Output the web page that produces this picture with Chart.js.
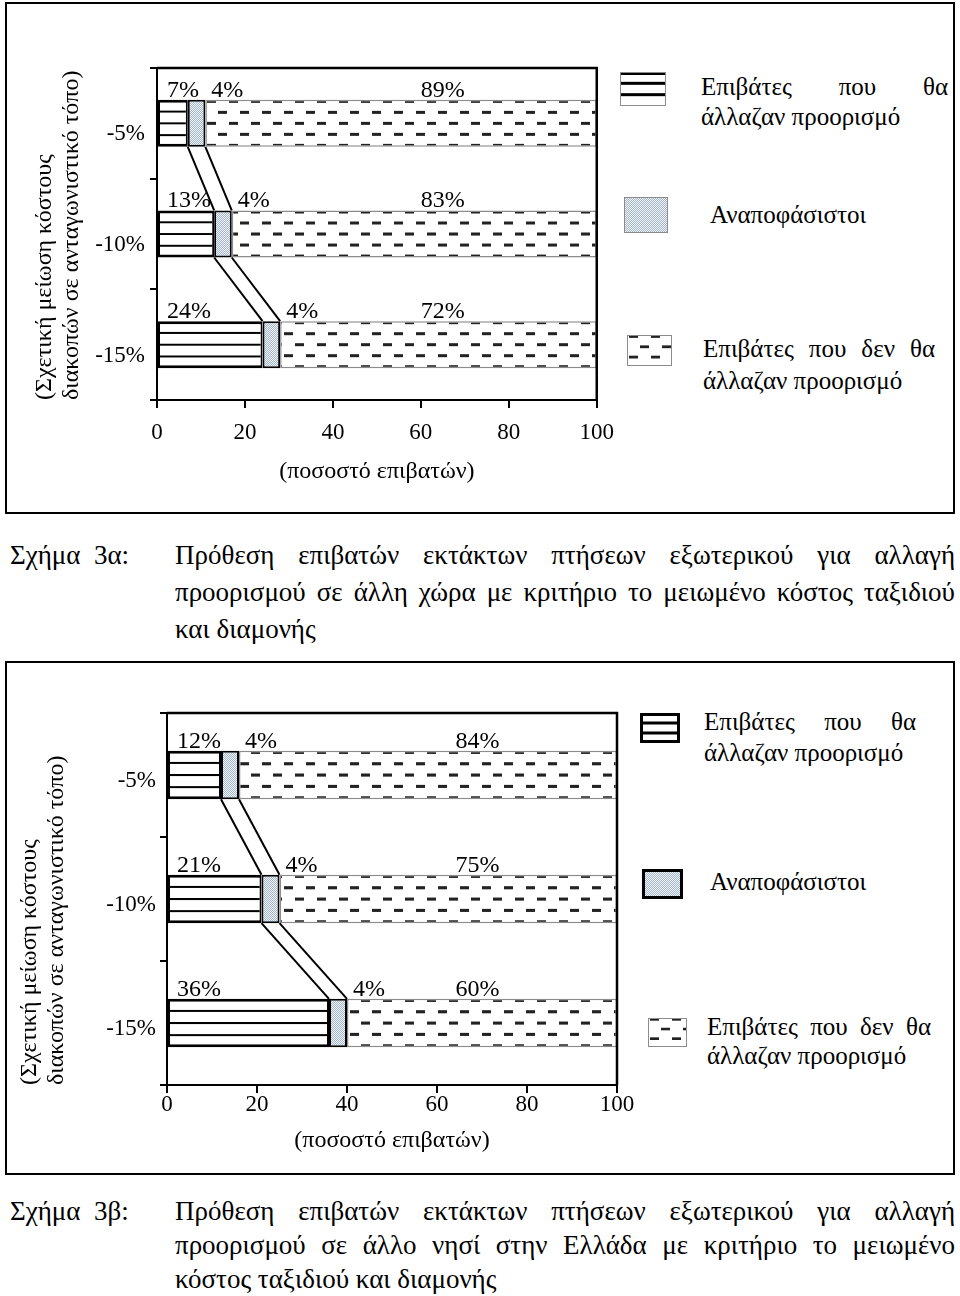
<!DOCTYPE html>
<html lang="el">
<head>
<meta charset="utf-8">
<script src="https://cdn.jsdelivr.net/npm/chart.js@4.4.1/dist/chart.umd.min.js"></script>
<style>
  body { margin: 0; width: 960px; height: 1296px; background: #fff; position: relative; overflow: hidden;
         font-family: 'Liberation Serif', 'Times New Roman', serif; color: #000; }
  .box { position: absolute; left: 5px; width: 950px; box-sizing: border-box; border: 2px solid #000; }
  canvas.chart, canvas.sw { position: absolute; }
  .lg { position: absolute; font-size: 25px; white-space: nowrap; }
  .lg .j { text-align: justify; text-align-last: justify; }
  .cap { position: absolute; left: 0; width: 960px; font-size: 27px; }
  .cap .num { position: absolute; left: 10px; top: 0; white-space: pre; }
  .cap .txt { position: absolute; left: 175px; width: 780px; top: 0; }
  .cap .txt .j { text-align: justify; text-align-last: justify; white-space: nowrap; }
</style>
</head>
<body>
<div class="box" style="top:2px;height:512px"></div>
<div class="box" style="top:661px;height:514px"></div>
<canvas id="chartA" class="chart" width="620" height="508" style="left:7px;top:4px"></canvas>
<canvas id="chartB" class="chart" width="640" height="510" style="left:7px;top:663px"></canvas>

<div class="cap" style="top:537px;line-height:37px">
  <div class="num">Σχήμα  3α:</div>
  <div class="txt">
    <div class="j">Πρόθεση επιβατών εκτάκτων πτήσεων εξωτερικού για αλλαγή</div>
    <div class="j">προορισμού σε άλλη χώρα με κριτήριο το μειωμένο κόστος ταξιδιού</div>
    <div>και διαμονής</div>
  </div>
</div>
<div class="cap" style="top:1194px;line-height:34px">
  <div class="num">Σχήμα  3β:</div>
  <div class="txt">
    <div class="j">Πρόθεση επιβατών εκτάκτων πτήσεων εξωτερικού για αλλαγή</div>
    <div class="j">προορισμού  σε άλλο νησί στην Ελλάδα με κριτήριο το μειωμένο</div>
    <div>κόστος ταξιδιού και διαμονής</div>
  </div>
</div>

<script>
// ---- data ----
const CATEGORIES = ['-5%', '-10%', '-15%'];
const SERIES_LABELS = ['Επιβάτες που θα άλλαζαν προορισμό', 'Αναποφάσιστοι', 'Επιβάτες που δεν θα άλλαζαν προορισμό'];
const X_TICKS = [0, 20, 40, 60, 80, 100];
const Y_TITLE = ['(Σχετική μείωση κόστους', 'διακοπών σε ανταγωνιστικό τόπο)'];
const X_TITLE = '(ποσοστό επιβατών)';

// Σχήμα 3α: άλλη χώρα
const A_CHANGE = [7, 13, 24];
const A_UNDECIDED = [4, 4, 4];
const A_STAY = [89, 83, 72];

// Σχήμα 3β: άλλο νησί
const B_CHANGE = [12, 21, 36];
const B_UNDECIDED = [4, 4, 4];
const B_STAY = [84, 75, 60];

const SERIF = "'Liberation Serif', 'Times New Roman', serif";
Chart.defaults.font.family = SERIF;
Chart.defaults.color = '#000';

// --- pattern tiles ---
function tile(w, h, draw) {
  const c = document.createElement('canvas');
  c.width = w; c.height = h;
  draw(c.getContext('2d'));
  return c;
}
const LINES_TILE = tile(4, 12, g => {
  g.fillStyle = '#fff'; g.fillRect(0, 0, 4, 12);
  g.fillStyle = '#000'; g.fillRect(0, 0, 4, 1); g.fillRect(0, 11, 4, 1);
});
const DASH_TILE = tile(22, 22, g => {
  g.fillStyle = '#fff'; g.fillRect(0, 0, 22, 22);
  g.fillStyle = '#222';
  g.fillRect(2, 0, 9, 3);
  g.fillRect(13, 11, 9, 3);
});
const DOTS_TILE = tile(2, 2, g => {
  g.fillStyle = '#f1f5f9'; g.fillRect(0, 0, 2, 2);
  g.fillStyle = '#a3b6c8'; g.fillRect(0, 0, 1, 1); g.fillRect(1, 1, 1, 1);
});

// pattern stretched so its rows fit the bar it fills
function rowPattern(tileCanvas, rowsPerTile, rows, inset, pct) {
  return function (c) {
    const chart = c.chart;
    const ys = chart.scales.y;
    if (!chart.chartArea || c.dataIndex === undefined || !ys || isNaN(ys.bottom)) return '#fff';
    const band = (ys.bottom - ys.top) / CATEGORIES.length;
    const h = band * pct;
    const top = ys.getPixelForValue(c.dataIndex) - h / 2;
    const p = chart.ctx.createPattern(tileCanvas, 'repeat');
    const sy = ((h - inset) / rows) * rowsPerTile / tileCanvas.height;
    p.setTransform(new DOMMatrix().translate(0, top).scale(1, sy));
    return p;
  };
}

const decor = {
  id: 'decor',
  afterDatasetsDraw(chart, args, opts) {
    const g = chart.ctx, a = chart.chartArea;
    const m0 = chart.getDatasetMeta(0).data, m1 = chart.getDatasetMeta(1).data;
    g.save();
    // series lines between the bars
    g.strokeStyle = '#000'; g.lineWidth = 2;
    for (let i = 0; i < m0.length - 1; i++) {
      [m0, m1].forEach(m => {
        const p = m[i], q = m[i + 1];
        g.beginPath();
        g.moveTo(p.x, p.y + p.height / 2);
        g.lineTo(q.x, q.y - q.height / 2);
        g.stroke();
      });
    }
    // top and right edge of the plot
    g.lineWidth = 2.5;
    g.beginPath();
    g.moveTo(a.left, a.top); g.lineTo(a.right, a.top); g.lineTo(a.right, a.bottom);
    g.stroke();
    // value labels above the bars
    g.font = '24px ' + SERIF; g.fillStyle = '#000'; g.textBaseline = 'alphabetic';
    const xs = chart.scales.x;
    chart.data.datasets.forEach((ds, d) => {
      chart.getDatasetMeta(d).data.forEach((el, i) => {
        const y = el.y - el.height / 2 - 3;
        const txt = ds.data[i] + '%';
        if (d === 0) { g.textAlign = 'left'; g.fillText(txt, el.base + 9, y); }
        else if (d === 1) { g.textAlign = 'left'; g.fillText(txt, el.x + 6, y); }
        else { g.textAlign = 'center'; g.fillText(txt, xs.getPixelForValue(opts.labelAt), y); }
      });
    });
    g.restore();
  }
};

function makeChart(id, change, undecided, stay, o) {
  const pct = o.barPct;
  return new Chart(document.getElementById(id), {
    type: 'bar',
    data: {
      labels: CATEGORIES,
      datasets: [
        { label: SERIES_LABELS[0], data: change,
          backgroundColor: rowPattern(LINES_TILE, 1, 4, 0, pct),
          borderColor: '#000', borderWidth: { top: 3, bottom: 3, left: 2, right: 2 }, borderSkipped: false },
        { label: SERIES_LABELS[1], data: undecided,
          backgroundColor: c => c.chart.ctx.createPattern(DOTS_TILE, 'repeat'),
          borderColor: '#000', borderWidth: 2, borderSkipped: false },
        { label: SERIES_LABELS[2], data: stay,
          backgroundColor: rowPattern(DASH_TILE, 2, 4, 3, pct),
          borderColor: '#8c8c8c', borderWidth: 1.5, borderSkipped: false }
      ]
    },
    options: {
      indexAxis: 'y',
      responsive: false,
      animation: false,
      events: [],
      barPercentage: pct,
      categoryPercentage: 1,
      layout: { padding: { left: 0, top: o.padTop, right: o.padRight, bottom: 0 } },
      plugins: { legend: { display: false }, tooltip: { enabled: false }, decor: { labelAt: o.labelAt } },
      scales: {
        x: {
          stacked: true, min: 0, max: 100,
          afterBuildTicks: s => { s.ticks = X_TICKS.map(v => ({ value: v })); },
          afterFit: s => { s.height = o.xHeight; },
          grid: { drawOnChartArea: false, tickLength: 8, color: '#000', lineWidth: 2 },
          border: { color: '#000', width: 2 },
          ticks: { font: { size: 23, lineHeight: 1 }, padding: o.xTickPad, maxRotation: 0 },
          title: { display: true, text: X_TITLE, font: { size: 24, lineHeight: 1.2 },
                   padding: { top: 0, bottom: o.xTitlePad } }
        },
        y: {
          stacked: true,
          afterFit: s => { s.width = o.yWidth; },
          grid: { drawOnChartArea: false, tickLength: 7, color: '#000', lineWidth: 2 },
          border: { color: '#000', width: 2 },
          ticks: { font: { size: 23 }, padding: o.yTickPad, labelOffset: o.yLabelOffset },
          title: { display: true, text: Y_TITLE, align: 'start', font: { size: 24, lineHeight: 1.1 },
                   padding: { top: o.yTitlePad, bottom: 0 } }
        }
      }
    },
    plugins: [decor]
  });
}

makeChart('chartA', A_CHANGE, A_UNDECIDED, A_STAY, {
  barPct: 0.425, padTop: 64, padRight: 29, yWidth: 150, xHeight: 112,
  xTickPad: 13, xTitlePad: 25.6, yTickPad: 5, yTitlePad: 24.8, yLabelOffset: 11, labelAt: 65
});
makeChart('chartB', B_CHANGE, B_UNDECIDED, B_STAY, {
  barPct: 0.39, padTop: 50, padRight: 30, yWidth: 160, xHeight: 88,
  xTickPad: 0, xTitlePad: 17.6, yTickPad: 4, yTitlePad: 9.8, yLabelOffset: 6, labelAt: 69
});

// ---- legends (HTML) ----
function drawSwatch(x, y, w, h, kind, strong) {
  const cv = document.createElement('canvas');
  cv.className = 'sw'; cv.width = w; cv.height = h;
  cv.style.left = x + 'px'; cv.style.top = y + 'px';
  document.body.appendChild(cv);
  const g = cv.getContext('2d');
  g.fillStyle = '#fff'; g.fillRect(0, 0, w, h);
  if (kind === 0) {
    g.fillStyle = '#000';
    [0, h / 3, 2 * h / 3].forEach(v => g.fillRect(0, Math.max(0, v - 1.5), w, 3));
  } else if (kind === 1) {
    g.fillStyle = g.createPattern(DOTS_TILE, 'repeat'); g.fillRect(0, 0, w, h);
  } else {
    const p = g.createPattern(DASH_TILE, 'repeat');
    p.setTransform(new DOMMatrix().scale(1, (h / 3) / 11));
    g.fillStyle = p; g.fillRect(0, 0, w, h - 2);
  }
  if (strong) { g.strokeStyle = '#000'; g.lineWidth = 3; g.strokeRect(1.5, 1.5, w - 3, h - 3); }
  else { g.strokeStyle = '#8c8c8c'; g.lineWidth = 1; g.strokeRect(0.5, 0.5, w - 1, h - 1); }
}

function legendText(x, y, w, lh, label, split) {
  const d = document.createElement('div');
  d.className = 'lg';
  d.style.left = x + 'px'; d.style.top = y + 'px'; d.style.lineHeight = lh + 'px';
  if (split) {
    const words = label.split(' ');
    const first = words.slice(0, words.length - 2).join(' ');
    const rest = words.slice(words.length - 2).join(' ');
    d.innerHTML = '<div class="j" style="width:' + w + 'px">' + first + '</div><div>' + rest + '</div>';
  } else {
    d.textContent = label;
  }
  document.body.appendChild(d);
}

// Σχήμα 3α legend
drawSwatch(620, 72, 46, 34, 0, false);
drawSwatch(624, 197, 44, 36, 1, false);
drawSwatch(627, 335, 45, 31, 2, false);
legendText(701, 72, 247, 30, SERIES_LABELS[0], true);
legendText(710, 200, 0, 30, SERIES_LABELS[1], false);
legendText(703, 333, 232, 32, SERIES_LABELS[2], true);

// Σχήμα 3β legend
drawSwatch(640, 713, 40, 30, 0, true);
drawSwatch(642, 869, 41, 30, 1, true);
drawSwatch(648, 1018, 39, 29, 2, false);
legendText(704, 706, 212, 31, SERIES_LABELS[0], true);
legendText(710, 867, 0, 30, SERIES_LABELS[1], false);
legendText(707, 1012, 224, 29, SERIES_LABELS[2], true);
</script>
</body>
</html>
